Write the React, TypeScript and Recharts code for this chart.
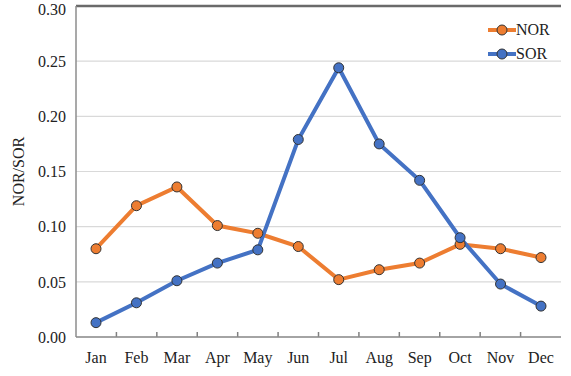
import React from "react";
import { LineChart, Line, XAxis, YAxis, CartesianGrid, Legend, ReferenceLine } from "recharts";

const months = ["Jan", "Feb", "Mar", "Apr", "May", "Jun", "Jul", "Aug", "Sep", "Oct", "Nov", "Dec"];
const norValues = [0.080, 0.119, 0.136, 0.101, 0.094, 0.082, 0.052, 0.061, 0.067, 0.084, 0.080, 0.072];
const sorValues = [0.013, 0.031, 0.051, 0.067, 0.079, 0.179, 0.244, 0.175, 0.142, 0.090, 0.048, 0.028];
const yTicks = [0, 0.05, 0.1, 0.15, 0.2, 0.25, 0.3];

const data = months.map((m, i) => ({ month: m, NOR: norValues[i], SOR: sorValues[i] }));

const FONT = "'Liberation Serif', 'Times New Roman', serif";
const ORANGE = "#ED7D31";
const BLUE = "#4472C4";

const CHART_W = 571;
const CHART_H = 376;
const MARGIN = { top: 6, right: 10, bottom: 0, left: 0 };
const Y_AXIS_W = 76;
const X_AXIS_H = 39;

const LegendContent = () => {
  const items = [
    { name: "NOR", color: ORANGE },
    { name: "SOR", color: BLUE },
  ];
  return (
    <div style={{ fontFamily: FONT, fontSize: 16, color: "#222" }}>
      {items.map((it) => (
        <div key={it.name} style={{ display: "flex", alignItems: "center", height: 24 }}>
          <svg width={28} height={12} style={{ display: "block" }}>
            <line x1={0} y1={6} x2={28} y2={6} stroke={it.color} strokeWidth={4} />
            <circle cx={14} cy={6} r={5} fill={it.color} stroke="#333" strokeWidth={1} />
          </svg>
          <span style={{ lineHeight: "16px" }}>{it.name}</span>
        </div>
      ))}
    </div>
  );
};

const VLine = (props: any) => {
  const bottom = Math.max(Number(props.y1), Number(props.y2));
  return <line x1={props.x1} y1={bottom - 5} x2={props.x2} y2={bottom} stroke="#808080" strokeWidth={1.5} />;
};

const verticalGen = () => {
  const left = MARGIN.left + Y_AXIS_W;
  const width = CHART_W - MARGIN.right - left;
  const pts: number[] = [];
  for (let k = 1; k < months.length; k++) pts.push(left + (width * k) / months.length);
  return pts;
};

const tickStyle = { fontSize: 16, fill: "#222" };

export default function App() {
  return (
    <div style={{ position: "absolute", left: 0, top: 0, width: CHART_W, height: CHART_H, background: "#fff", fontFamily: FONT }}>
      <LineChart width={CHART_W} height={CHART_H} data={data} margin={MARGIN}>
        <CartesianGrid
          stroke="#d9d9d9"
          strokeWidth={1.2}
          vertical={VLine}
          verticalCoordinatesGenerator={verticalGen}
        />
        <XAxis
          dataKey="month"
          padding={{ left: 20, right: 20 }}
          height={X_AXIS_H}
          axisLine={{ stroke: "#8c8c8c", strokeWidth: 1.5 }}
          tickLine={false}
          tickMargin={9}
          tick={tickStyle}
          interval={0}
        />
        <YAxis
          domain={[0, 0.3]}
          ticks={yTicks}
          width={Y_AXIS_W}
          axisLine={{ stroke: "#8c8c8c", strokeWidth: 1.5 }}
          tickLine={false}
          tickMargin={4}
          tickFormatter={(v: number) => v.toFixed(2)}
          tick={tickStyle}
          label={{ value: "NOR/SOR", angle: -90, position: "insideLeft", offset: 18, style: { fontSize: 16, fill: "#222", textAnchor: "middle" } }}
          allowDataOverflow
        />
        <YAxis
          yAxisId="frame"
          orientation="right"
          width={0}
          domain={[0, 0.3]}
          axisLine={{ stroke: "#a0a0a0", strokeWidth: 1.5 }}
          tick={false}
          tickLine={false}
        />
        <ReferenceLine y={0.3} stroke="#6a6a6a" strokeWidth={2.5} />
        <Legend
          layout="vertical"
          align="center"
          verticalAlign="middle"
          content={<LegendContent />}
          wrapperStyle={{ top: 18, left: 488, right: "auto", bottom: "auto", width: "auto" }}
        />
        <Line
          dataKey="NOR"
          stroke={ORANGE}
          strokeWidth={4}
          dot={{ r: 5, fill: ORANGE, stroke: "#333", strokeWidth: 1 }}
          isAnimationActive={false}
        />
        <Line
          dataKey="SOR"
          stroke={BLUE}
          strokeWidth={4}
          dot={{ r: 5, fill: BLUE, stroke: "#333", strokeWidth: 1 }}
          isAnimationActive={false}
        />
      </LineChart>
    </div>
  );
}
